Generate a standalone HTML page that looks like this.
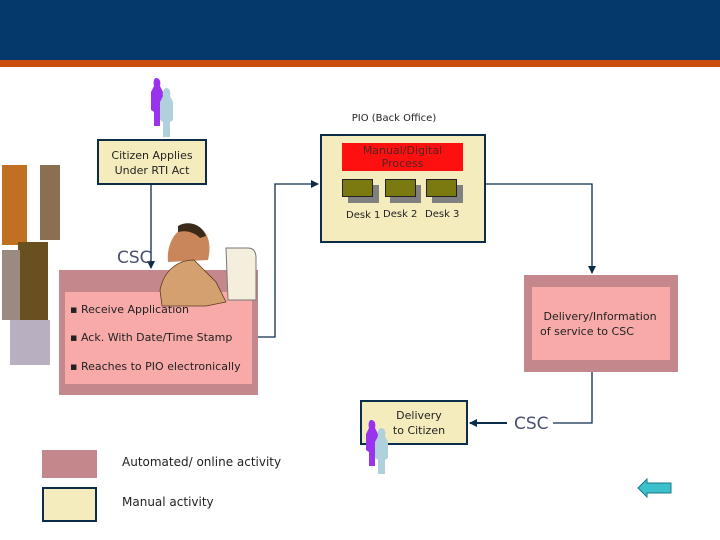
<!DOCTYPE html>
<html><head><style>
body{margin:0;width:720px;height:540px;position:relative;background:#fff;font-family:"DejaVu Sans","Liberation Sans",sans-serif;overflow:hidden}
div{position:absolute;box-sizing:border-box}
.t{font-size:11px;color:#222;text-align:center;line-height:15px}
</style></head><body>
<div style="left:0;top:0;width:720px;height:60px;background:#05386b"></div>
<div style="left:0;top:60px;width:720px;height:7px;background:#cc4e0e"></div>

<svg width="720" height="540" style="position:absolute;left:0;top:0">
<defs><marker id="a" markerWidth="8" markerHeight="8" refX="7" refY="4" orient="auto" markerUnits="userSpaceOnUse"><path d="M0,0L8,4L0,8z" fill="#0c2d4a"/></marker></defs>
<g stroke="#0c2d4a" stroke-width="1.3" fill="none">
<path d="M151,185V268" marker-end="url(#a)"/>
<path d="M258,337H275V184H318" marker-end="url(#a)"/>
<path d="M485,184H592V273" marker-end="url(#a)"/>
<path d="M592,372V423H553"/>
<path d="M507,423H470" stroke-width="2" marker-end="url(#a)"/>
</g>
<g>
<path d="M156,78c4,0 5,4 4,8l3,6v18l-3,2v14h-6v-14l-3-2v-18l3-6c-1-4 0-8 2-8z" fill="#9933ee"/>
<path d="M166,88c4,0 5,4 4,8l3,6v18l-3,2v15h-7v-15l-3-2v-18l3-6c-1-4 1-8 3-8z" fill="#b0d0dc"/>
</g>
<rect x="2" y="165" width="25" height="80" fill="#c07020"/>
<rect x="40" y="165" width="20" height="75" fill="#8a7050"/>
<rect x="18" y="242" width="30" height="80" fill="#6a5020"/>
<rect x="2" y="250" width="18" height="70" fill="#9a8a80"/>
<rect x="10" y="320" width="40" height="45" fill="#b8b0c0"/>
</svg>

<div class="t" style="left:320px;top:111px;width:148px;font-size:10px">PIO (Back Office)</div>
<div class="t" style="left:97px;top:139px;width:110px;height:46px;background:#f5ecbe;border:2px solid #0c2d4a;padding-top:7px">Citizen Applies<br>Under RTI Act</div>

<div style="left:320px;top:134px;width:166px;height:109px;background:#f5ecbe;border:2px solid #0c2d4a"></div>
<div class="t" style="left:342px;top:143px;width:121px;height:28px;background:#ff1010;color:#552222;line-height:13px;padding-top:1px">Manual/Digital<br>Process</div>
<div style="left:348px;top:185px;width:31px;height:18px;background:#808080"></div>
<div style="left:390px;top:185px;width:31px;height:18px;background:#808080"></div>
<div style="left:432px;top:185px;width:31px;height:18px;background:#808080"></div>
<div style="left:342px;top:179px;width:31px;height:18px;background:#7a7a10;border:1px solid #222"></div>
<div style="left:385px;top:179px;width:31px;height:18px;background:#7a7a10;border:1px solid #222"></div>
<div style="left:426px;top:179px;width:31px;height:18px;background:#7a7a10;border:1px solid #222"></div>
<div class="t" style="left:346px;top:208px;font-size:10px">Desk 1</div>
<div class="t" style="left:383px;top:207px;font-size:10px">Desk 2</div>
<div class="t" style="left:425px;top:207px;font-size:10px">Desk 3</div>

<div style="left:59px;top:270px;width:199px;height:125px;background:#c4888c"></div>
<div style="left:65px;top:292px;width:187px;height:92px;background:#f8aaa8"></div>
<div class="t" style="left:117px;top:248px;font-size:17px;color:#4a5070;line-height:20px">CSC</div>
<div class="t" style="left:70px;top:302px;text-align:left">▪ Receive Application</div>
<div class="t" style="left:70px;top:330px;text-align:left">▪ Ack. With Date/Time Stamp</div>
<div class="t" style="left:70px;top:359px;text-align:left">▪ Reaches to PIO electronically</div>

<svg width="720" height="540" style="position:absolute;left:0;top:0">
<path d="M168,262c-2-20 10-38 26-36 14 2 18 18 14 34z" fill="#c9865a"/>
<path d="M178,226c10-6 24-2 28 10l-6 2c-6-6-14-8-22-6z" fill="#3a2a1a"/>
<path d="M160,290c4-20 18-30 34-30l22 22 10 20-20 4h-44z" fill="#d4a070" stroke="#5a3a20" stroke-width="0.8"/>
<path d="M226,248h22c6 0 8 4 8 10v42h-28z" fill="#f4eedc" stroke="#777"/>
</svg>

<div style="left:524px;top:275px;width:154px;height:97px;background:#c4888c"></div>
<div class="t" style="left:532px;top:287px;width:138px;height:73px;background:#f8aaa8;padding-top:22px;text-align:left;padding-left:8px">&nbsp;Delivery/Information<br>of service to CSC</div>

<div class="t" style="left:360px;top:400px;width:108px;height:45px;background:#f5ecbe;border:2px solid #0c2d4a;padding-top:6px;padding-left:10px">Delivery<br>to Citizen</div>
<div class="t" style="left:514px;top:414px;font-size:17px;color:#4a5070;line-height:20px">CSC</div>

<svg width="720" height="540" style="position:absolute;left:0;top:0">
<path d="M371,420c4,0 5,4 4,8l3,6v16l-3,2v14h-6v-14l-3-2v-16l3-6c-1-4 0-8 2-8z" fill="#9933ee"/>
<path d="M381,428c4,0 5,4 4,8l3,6v16l-3,2v14h-7v-14l-3-2v-16l3-6c-1-4 1-8 3-8z" fill="#b0d0dc"/>
</svg>

<div style="left:42px;top:450px;width:55px;height:28px;background:#c4888c"></div>
<div style="left:42px;top:487px;width:55px;height:35px;background:#f5ecbe;border:2px solid #0c2d4a"></div>
<div class="t" style="left:122px;top:455px;font-size:12px;text-align:left">Automated/ online activity</div>
<div class="t" style="left:122px;top:495px;font-size:12px;text-align:left">Manual activity</div>

<svg width="40" height="22" style="position:absolute;left:636px;top:477px"><path d="M2,11L11,2V6H35V16H11V20z" fill="#3cc0cc" stroke="#1a7a88"/></svg>
</body></html>
